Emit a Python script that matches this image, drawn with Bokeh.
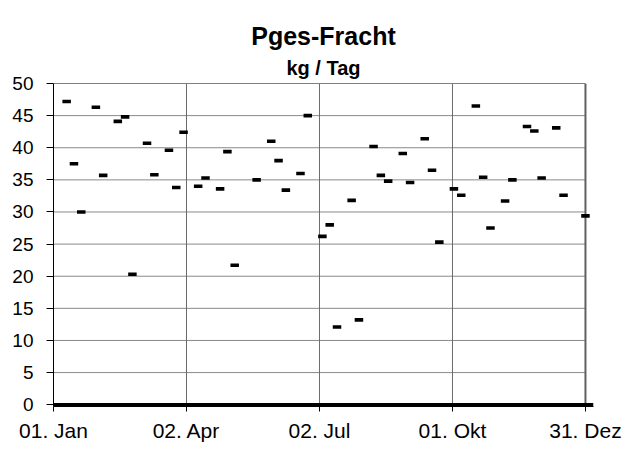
from bokeh.plotting import figure
from bokeh.models import Range1d, FixedTicker, Title
from bokeh.embed import file_html
from bokeh.resources import INLINE

# ---- data (day of year, 0 = 01. Jan) ----
days = [9, 14, 19, 29, 34, 44, 49, 54, 64, 69, 79, 84, 89, 99, 104, 114, 119, 124, 139, 149,
        154, 159, 169, 174, 184, 189, 194, 204, 209, 219, 224, 229, 239, 244, 254, 259, 264,
        274, 279, 289, 294, 299, 309, 314, 324, 329, 334, 344, 349, 364]
values = [47.2, 37.5, 30.0, 46.3, 35.7, 44.1, 44.8, 20.3, 40.7, 35.8, 39.6, 33.8, 42.4, 34.0,
          35.3, 33.6, 39.4, 21.7, 35.0, 41.0, 38.0, 33.4, 36.0, 45.0, 26.2, 28.0, 12.1, 31.8,
          13.2, 40.2, 35.7, 34.8, 39.1, 34.6, 41.4, 36.5, 25.3, 33.6, 32.6, 46.5, 35.4, 27.5,
          31.7, 35.0, 43.3, 42.6, 35.3, 43.1, 32.6, 29.4]
zero_days = [0, 369.5]
zero_values = [0, 0]

x_ticks = [0, 91, 182, 273, 364]
x_labels = ["01. Jan", "02. Apr", "02. Jul", "01. Okt", "31. Dez"]
y_ticks = [0, 5, 10, 15, 20, 25, 30, 35, 40, 45, 50]

title_text = "Pges-Fracht"
subtitle_text = "kg / Tag"

FONT = "Liberation Sans"
x_min, x_max = 0, 369.5
y_min, y_max = -0.28, 50
first_day, last_day = x_ticks[0], x_ticks[-1]
y_low, y_top = y_ticks[0], y_ticks[-1]

p = figure(width=628, height=453,
           x_range=Range1d(x_min, x_max), y_range=Range1d(y_min, y_max),
           output_backend="svg", toolbar_location=None,
           min_border_left=53, min_border_right=35,
           min_border_top=83, min_border_bottom=47,
           outline_line_color=None, background_fill_color="white",
           border_fill_color="white")
p.title.text = ""

p.add_layout(Title(text=subtitle_text, align="center", text_font=FONT,
                   text_font_size="20px", text_font_style="bold",
                   text_color="black", standoff=10), "above")
p.add_layout(Title(text=title_text, align="center", text_font=FONT,
                   text_font_size="25px", text_font_style="bold",
                   text_color="black", standoff=0), "above")

p.xgrid.visible = False
p.ygrid.visible = False

# horizontal grid lines
inner_y = [t for t in y_ticks if y_low < t < y_top]
p.segment(x0=[first_day] * len(inner_y), x1=[last_day] * len(inner_y),
          y0=inner_y, y1=inner_y, line_color="#8a8a8a", line_width=1)
# top border
p.segment(x0=[first_day], x1=[last_day], y0=[y_top], y1=[y_top],
          line_color="black", line_width=1)
# vertical grid lines
inner_x = x_ticks[1:-1]
p.segment(x0=inner_x, x1=inner_x, y0=[y_low] * len(inner_x), y1=[y_top] * len(inner_x),
          line_color="#6a6a6a", line_width=1)
# right border
p.segment(x0=[last_day], x1=[last_day], y0=[y_low], y1=[y_top],
          line_color="#606060", line_width=2)

# zero series line
p.line(zero_days, zero_values, line_color="black", line_width=3.5)

# data markers
p.rect(x=days, y=values, width=8.5, height=3.6, width_units="screen",
       height_units="screen", fill_color="black", line_color=None)

# axes
p.xaxis.ticker = FixedTicker(ticks=x_ticks)
p.xaxis.major_label_overrides = {t: l for t, l in zip(x_ticks, x_labels)}
p.xaxis.minor_tick_line_color = None
p.xaxis.major_tick_in = 0
p.xaxis.major_tick_out = 5
p.xaxis.major_tick_line_color = "black"
p.xaxis.axis_line_color = "black"
p.xaxis.major_label_text_font = FONT
p.xaxis.major_label_text_font_size = "21px"
p.xaxis.major_label_text_color = "black"
p.xaxis.major_label_standoff = 7

p.yaxis.ticker = FixedTicker(ticks=y_ticks)
p.yaxis.minor_tick_line_color = None
p.yaxis.major_tick_in = 0
p.yaxis.major_tick_out = 7
p.yaxis.major_tick_line_color = "black"
p.yaxis.axis_line_color = "black"
p.yaxis.major_label_text_font = FONT
p.yaxis.major_label_text_font_size = "19px"
p.yaxis.major_label_text_color = "black"
p.yaxis.major_label_standoff = 13

open("out.html", "w").write(file_html(p, INLINE))
